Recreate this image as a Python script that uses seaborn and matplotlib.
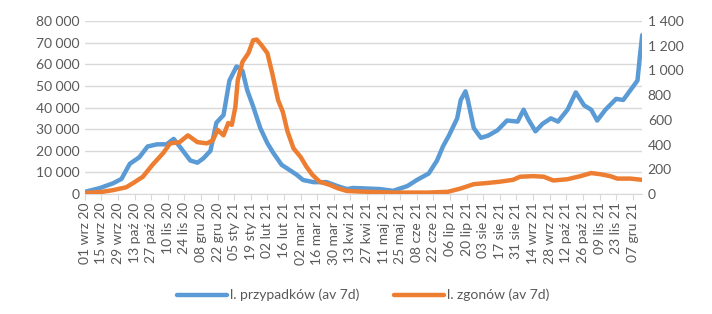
import pandas as pd
import seaborn as sns
import matplotlib.pyplot as plt

# dane (średnie 7-dniowe)
cases_dates = ['2020-09-01', '2020-09-14', '2020-09-25', '2020-10-02', '2020-10-09', '2020-10-17',
               '2020-10-24', '2020-11-01', '2020-11-09', '2020-11-15', '2020-11-20', '2020-11-29',
               '2020-12-05', '2020-12-10', '2020-12-16', '2020-12-21', '2020-12-27', '2021-01-01',
               '2021-01-07', '2021-01-12', '2021-01-16', '2021-01-21', '2021-01-27', '2021-02-02',
               '2021-02-07', '2021-02-14', '2021-02-21', '2021-02-27', '2021-03-04', '2021-03-13',
               '2021-03-24', '2021-04-02', '2021-04-10', '2021-04-15', '2021-04-21', '2021-05-08',
               '2021-05-19', '2021-05-31', '2021-06-08', '2021-06-18', '2021-06-25', '2021-06-30',
               '2021-07-05', '2021-07-12', '2021-07-15', '2021-07-19', '2021-07-21', '2021-07-26',
               '2021-08-01', '2021-08-07', '2021-08-15', '2021-08-23', '2021-09-01', '2021-09-06',
               '2021-09-10', '2021-09-16', '2021-09-22', '2021-09-29', '2021-10-05', '2021-10-13',
               '2021-10-20', '2021-10-27', '2021-11-02', '2021-11-07', '2021-11-14', '2021-11-23',
               '2021-11-29', '2021-12-05', '2021-12-11', '2021-12-13', '2021-12-15']
cases = [1000, 2800, 5000, 7000, 14000, 17000,
         22000, 23000, 23000, 25500, 22000, 15500,
         14500, 16500, 20000, 33000, 36500, 52500,
         59000, 57000, 48000, 40500, 30500, 23500,
         19000, 13500, 11000, 8800, 6500, 5500,
         5500, 3700, 2300, 2800, 2700, 2300,
         1500, 3700, 6500, 9500, 15500, 22000,
         27000, 35000, 43500, 47500, 43500, 30500,
         26000, 27000, 29500, 34000, 33500, 39000,
         34500, 29000, 32500, 35000, 33500, 39000,
         47000, 41000, 39000, 34000, 39000, 44000,
         43500, 48000, 52500, 63500, 73500]

deaths_dates = ['2020-09-01', '2020-09-14', '2020-09-25', '2020-10-06', '2020-10-12', '2020-10-20',
                '2020-10-28', '2020-11-06', '2020-11-12', '2020-11-20', '2020-11-27', '2020-12-05',
                '2020-12-13', '2020-12-18', '2020-12-22', '2020-12-27', '2020-12-31', '2021-01-03',
                '2021-01-06', '2021-01-08', '2021-01-12', '2021-01-17', '2021-01-21', '2021-01-24',
                '2021-01-28', '2021-02-02', '2021-02-06', '2021-02-11', '2021-02-15', '2021-02-19',
                '2021-02-24', '2021-03-02', '2021-03-07', '2021-03-12', '2021-03-18', '2021-03-27',
                '2021-04-02', '2021-04-10', '2021-04-21', '2021-05-19', '2021-06-17', '2021-07-04',
                '2021-07-15', '2021-07-26', '2021-08-07', '2021-08-17', '2021-08-28', '2021-09-03',
                '2021-09-14', '2021-09-23', '2021-10-01', '2021-10-13', '2021-10-24', '2021-11-02',
                '2021-11-10', '2021-11-18', '2021-11-24', '2021-12-05', '2021-12-15']
deaths = [10, 15, 32, 55, 90, 140,
          235, 330, 410, 420, 475, 420,
          410, 435, 520, 475, 575, 560,
          705, 920, 1070, 1140, 1245, 1250,
          1205, 1140, 980, 760, 665, 505,
          370, 300, 220, 155, 100, 73,
          48, 25, 20, 12, 12, 18,
          45, 80, 90, 100, 115, 140,
          145, 140, 110, 120, 145, 170,
          160, 145, 125, 125, 115]

months_pl = ['sty', 'lut', 'mar', 'kwi', 'maj', 'cze', 'lip', 'sie', 'wrz', 'paź', 'lis', 'gru']

df_c = pd.DataFrame({'data': pd.to_datetime(cases_dates), 'v': cases})
df_d = pd.DataFrame({'data': pd.to_datetime(deaths_dates), 'v': deaths})

sns.set_style('white')
plt.rcParams['font.family'] = ['Lato', 'DejaVu Sans']

blue = '#5B9BD5'
orange = '#ED7D31'
txt = '#595959'

fig = plt.figure(figsize=(7.12, 3.14), dpi=100)
ax = fig.add_axes([0.119, 0.382, 0.783, 0.551])
ax2 = ax.twinx()

sns.lineplot(data=df_c, x='data', y='v', ax=ax, color=blue, linewidth=3.2,
             label='l. przypadków (av 7d)', legend=False,
             solid_capstyle='round', solid_joinstyle='round')
sns.lineplot(data=df_d, x='data', y='v', ax=ax2, color=orange, linewidth=3.2,
             label='l. zgonów (av 7d)', legend=False,
             solid_capstyle='round', solid_joinstyle='round')

ax.set_ylim(0, 80000)
ax2.set_ylim(0, 1400)
ax.set_yticks(range(0, 80001, 10000))
ax2.set_yticks(range(0, 1401, 200))
ax.set_yticklabels([f'{v:,}'.replace(',', ' ') for v in range(0, 80001, 10000)])
ax2.set_yticklabels([f'{v:,}'.replace(',', ' ') for v in range(0, 1401, 200)])

start = pd.Timestamp('2020-09-01')
ax.set_xlim(start, pd.Timestamp('2021-12-15'))
ticks = pd.date_range('2020-09-01', '2021-12-07', freq='14D')
ax.set_xticks(ticks)
ax.set_xticklabels([f'{t.day:02d} {months_pl[t.month - 1]} {t.year % 100}' for t in ticks],
                   rotation=90)

ax.grid(axis='y', color='#D9D9D9', linewidth=1)
ax.set_xlabel('')
ax.set_ylabel('')
ax2.set_ylabel('')
for a in (ax, ax2):
    for s in a.spines.values():
        s.set_visible(False)
    a.tick_params(axis='y', length=0, labelsize=10, colors=txt, pad=4)
ax.spines['bottom'].set_visible(True)
ax.spines['bottom'].set_color('#D9D9D9')
ax.tick_params(axis='x', length=4, color='#D9D9D9', labelsize=10, labelcolor=txt, pad=2,
               bottom=True)

h1, l1 = ax.get_legend_handles_labels()
h2, l2 = ax2.get_legend_handles_labels()
leg = fig.legend(h1 + h2, l1 + l2, loc='center', bbox_to_anchor=(0.51, 0.06), ncol=2,
                 frameon=False, fontsize=10, handlelength=3.6, handletextpad=0.2,
                 columnspacing=2.5, labelcolor=txt)
for line in leg.get_lines():
    line.set_solid_capstyle('round')

fig.savefig('out.png', dpi=100)
